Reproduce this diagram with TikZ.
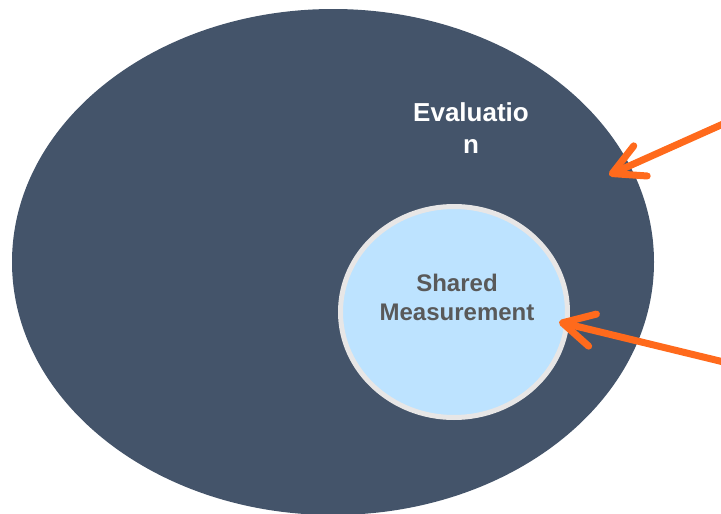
\documentclass[tikz,border=0pt]{standalone}
\usepackage{fontspec}
\setmainfont{Liberation Sans}
\usetikzlibrary{shapes.geometric,arrows.meta}
\definecolor{slate}{HTML}{44546A}
\definecolor{skyfill}{HTML}{BDE3FF}
\definecolor{rimgray}{HTML}{E7E6E6}
\definecolor{textgray}{HTML}{595959}
\definecolor{arroworange}{HTML}{FF6A1C}
\begin{document}
\begin{tikzpicture}[x=1pt,y=-1pt]
		\tikzstyle{blob}=[ellipse,inner sep=0pt]
		\tikzstyle{tag}=[align=center,inner sep=0pt,anchor=base]
		\tikzstyle{jab}=[arroworange,line width=7pt,line cap=round,-{Straight Barb[length=31pt,width=33pt,round]}]
		\useasboundingbox (0,0) rectangle (721,514);
		\node[blob,fill=slate,minimum width=642pt,minimum height=506pt] (e_eval) at (333,262) {};
		\node[blob,fill=skyfill,draw=rimgray,line width=5pt,minimum width=227pt,minimum height=211pt] (e_shared) at (454,312) {};
		\node[tag,text=white,font=\fontsize{26}{32}\selectfont\bfseries] (l_eval) at (471,153) {Evaluatio\\n};
		\node[tag,text=textgray,font=\fontsize{24}{28.5}\selectfont\bfseries] (l_shared) at (457,320) {Shared\\Measurement};
		\coordinate (a_1) at (732,120);
		\coordinate (t_1) at (609,175);
		\coordinate (a_2) at (732,364);
		\coordinate (t_2) at (559,322);
		\draw[jab] (a_1) -- (t_1);
		\draw[jab] (a_2) -- (t_2);
	\end{tikzpicture}
\end{document}
